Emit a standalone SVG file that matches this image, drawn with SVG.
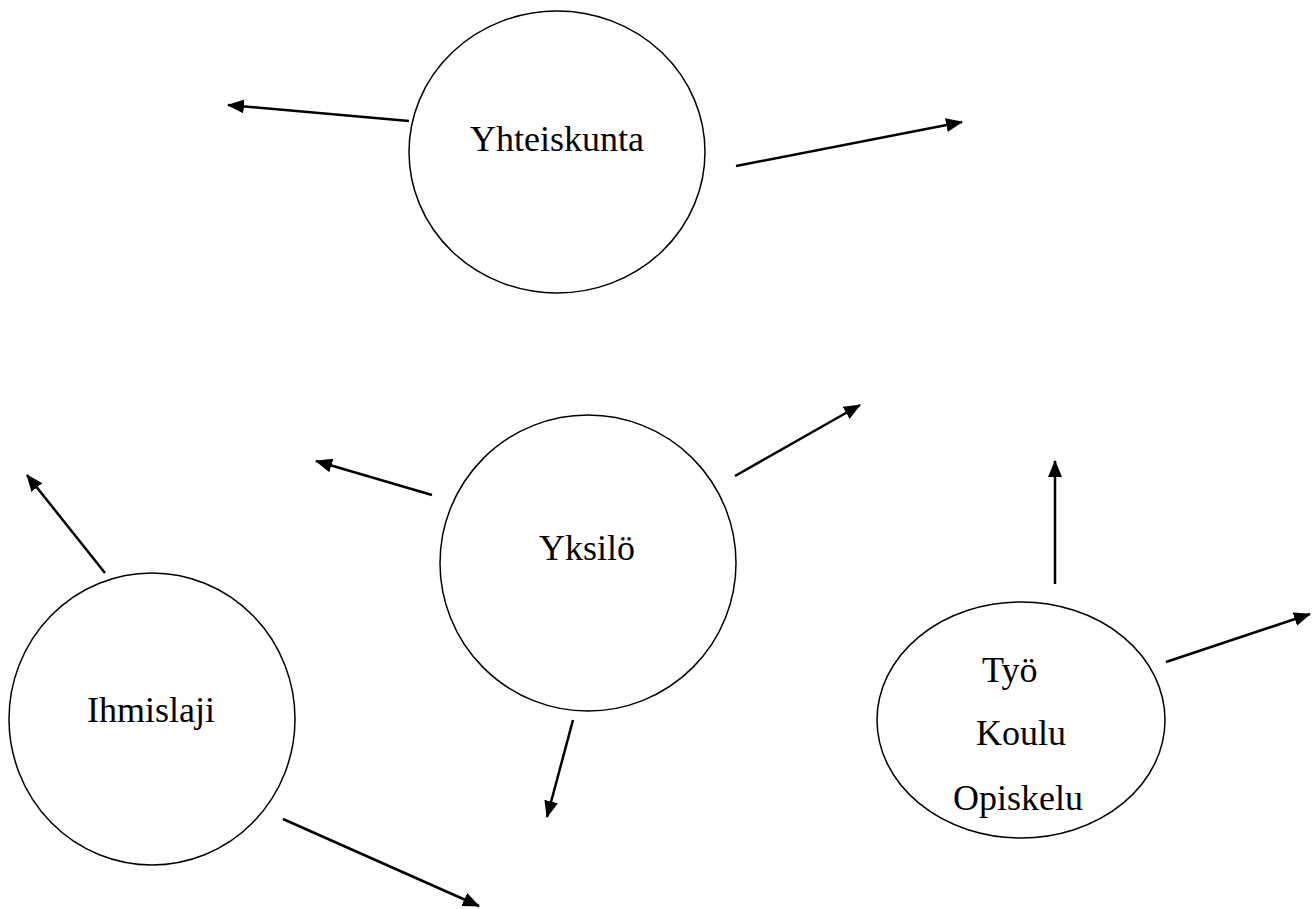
<svg xmlns="http://www.w3.org/2000/svg" width="1316" height="909" viewBox="0 0 1316 909">
<style>
.node{fill:#fff;stroke:#000;stroke-width:1.5}
.lbl{font-family:"Liberation Serif","Times New Roman",serif;font-size:36px;fill:#000}
.arr{stroke:#000;stroke-width:2.5;fill:none;marker-end:url(#ah)}
</style>
<defs>
<marker id="ah" markerUnits="userSpaceOnUse" markerWidth="18" markerHeight="14" refX="16" refY="7" orient="auto">
<path d="M0,0 L17,7 L0,14 Z" fill="#000"/>
</marker>
</defs>
<rect width="1316" height="909" fill="#fff"/>
<g id="yhteiskunta">
<ellipse class="node" cx="557" cy="152" rx="148" ry="141"/>
<text class="lbl" x="557" y="151" text-anchor="middle">Yhteiskunta</text>
</g>
<g id="yksilo">
<ellipse class="node" cx="588" cy="563" rx="148" ry="148"/>
<text class="lbl" x="587" y="560" text-anchor="middle">Yksilö</text>
</g>
<g id="ihmislaji">
<ellipse class="node" cx="152" cy="719" rx="143" ry="146"/>
<text class="lbl" x="151" y="722" text-anchor="middle">Ihmislaji</text>
</g>
<g id="tyo">
<ellipse class="node" cx="1021" cy="720" rx="144" ry="118"/>
<text class="lbl" x="982" y="682">Työ</text>
<text class="lbl" x="976" y="745">Koulu</text>
<text class="lbl" x="953" y="810">Opiskelu</text>
</g>
<g id="connectors">
<line class="arr" x1="409" y1="121" x2="228" y2="105"/>
<line class="arr" x1="736" y1="166" x2="962" y2="122"/>
<line class="arr" x1="432" y1="495" x2="316" y2="461"/>
<line class="arr" x1="735" y1="476" x2="860" y2="405"/>
<line class="arr" x1="573" y1="720" x2="547" y2="817"/>
<line class="arr" x1="105" y1="573" x2="27" y2="475"/>
<line class="arr" x1="283" y1="819" x2="479" y2="906"/>
<line class="arr" x1="1055" y1="584" x2="1055" y2="461"/>
<line class="arr" x1="1166" y1="662" x2="1310" y2="614"/>
</g>
</svg>
